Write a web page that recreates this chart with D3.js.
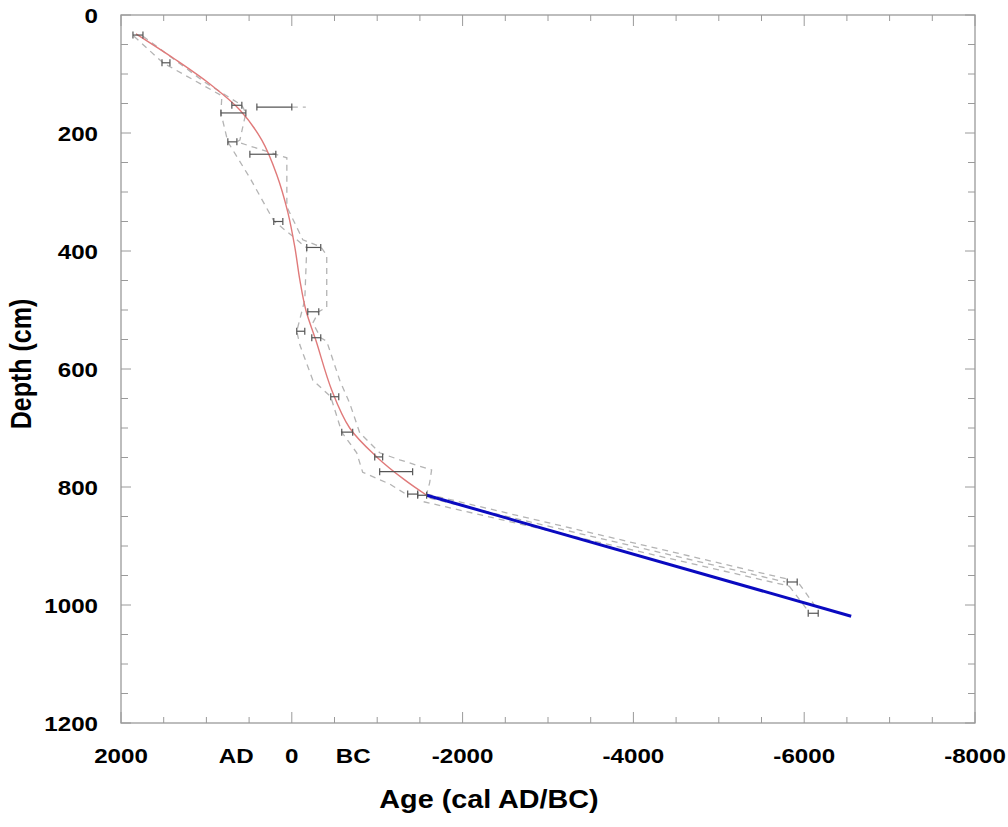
<!DOCTYPE html>
<html>
<head>
<meta charset="utf-8">
<script src="https://cdn.jsdelivr.net/npm/d3@7"></script>
<style>
  body { margin: 0; background: #fff; }
  text { font-family: "Liberation Sans", Arial, sans-serif; font-weight: bold; fill: #000; }
</style>
</head>
<body>
<svg id="chart" width="1008" height="827"></svg>
<script>
// dated samples: depth (cm), age range (cal AD/BC, negative = BC)
const dateDepths = [34, 81, 153, 156, 166, 215, 236, 350, 394, 503, 536, 547, 647, 707, 749, 774, 812, 814, 961, 1014];
const dateYoung  = [1860, 1520, 702, 409, 830, 749, 491, 211, -175, -187, -58, -234, -456, -585, -971, -1029, -1357, -1474, -5801, -6047];
const dateOld    = [1743, 1427, 585, 0, 538, 643, 187, 105, -339, -316, -152, -339, -550, -713, -1064, -1415, -1474, -1579, -5918, -6164];

// age-depth model (smooth spline part), [age, depth]
const modelCurve = [[1825, 32], [1368, 75], [959, 117], [608, 161], [351, 212], [175, 271], [47, 334],
  [-35, 393], [-94, 449], [-164, 500], [-281, 551], [-468, 636], [-678, 700], [-994, 749],
  [-1322, 788], [-1579, 814]];
// linear part below
const modelLinear = [[-1579, 814], [-6550, 1019]];

// confidence envelopes, [age, depth]
const envYoung = [[1848, 36], [1509, 81], [819, 137], [830, 166], [749, 215], [491, 276], [211, 349],
  [-35, 378], [-175, 395], [-152, 483], [-58, 536], [-94, 559], [-246, 619], [-456, 647], [-585, 707],
  [-760, 742], [-830, 775], [-1146, 795], [-1357, 814]];
const envOld = [[1743, 36], [1018, 114], [585, 153], [538, 166], [608, 212], [643, 215], [187, 236],
  [58, 242], [58, 325], [-129, 381], [-339, 393], [-409, 407], [-409, 495], [-316, 503], [-246, 522],
  [-339, 547], [-409, 553], [-561, 619], [-678, 658], [-795, 708], [-1029, 742], [-1263, 754],
  [-1637, 771], [-1614, 793], [-1579, 812]];
const envExtra = [
  [[0, 156], [-164, 156]],
  [[-1579, 812], [-5801, 956]],
  [[-1614, 819], [-5778, 961]],
  [[-1544, 825], [-5825, 968]],
  [[-5825, 968], [-6035, 1008]],
  [[-5942, 964], [-6129, 1002]]
];

const xTickValues = [2000, 0, -2000, -4000, -6000, -8000];
const xTickLabels = ["2000", "0", "-2000", "-4000", "-6000", "-8000"];
const eraLabels = [["AD", 650], ["BC", -720]];
const yTickValues = [0, 200, 400, 600, 800, 1000, 1200];

const svg = d3.select("#chart");
const m = { left: 121, right: 975, top: 15, bottom: 723 };
const stretch = 1.15;

const x = d3.scaleLinear().domain([2000, -8000]).range([m.left, m.right]);
const y = d3.scaleLinear().domain([0, 1200]).range([m.top, m.bottom]);

// ticks on all four sides, pointing inward
const axisColor = "#9a9a9a";
const g = svg.append("g");
const xMinor = d3.range(2000, -8001, -500);
const yMinor = d3.range(0, 1201, 50);
xMinor.forEach(v => {
  const len = v % 2000 === 0 ? 11 : 6;
  g.append("line").attr("x1", x(v)).attr("x2", x(v)).attr("y1", m.bottom).attr("y2", m.bottom - len)
    .attr("stroke", axisColor);
  g.append("line").attr("x1", x(v)).attr("x2", x(v)).attr("y1", m.top).attr("y2", m.top + len)
    .attr("stroke", axisColor);
});
yMinor.forEach(v => {
  const len = v % 200 === 0 ? 10 : 7;
  g.append("line").attr("x1", m.left).attr("x2", m.left + len).attr("y1", y(v)).attr("y2", y(v))
    .attr("stroke", axisColor);
  g.append("line").attr("x1", m.right).attr("x2", m.right - len).attr("y1", y(v)).attr("y2", y(v))
    .attr("stroke", axisColor);
});
g.append("rect").attr("x", m.left).attr("y", m.top).attr("width", m.right - m.left).attr("height", m.bottom - m.top)
  .attr("fill", "none").attr("stroke", axisColor).attr("stroke-width", 1.3);

// tick labels
function label(txt, px, py, anchor, size, rot) {
  svg.append("text")
    .attr("transform", `translate(${px},${py}) scale(${stretch},1)` + (rot ? ` rotate(${rot})` : ""))
    .attr("text-anchor", anchor).attr("font-size", size).text(txt);
}
xTickValues.forEach((v, i) => label(xTickLabels[i], x(v), 763, "middle", 21));
eraLabels.forEach(([t, v]) => label(t, x(v), 763, "middle", 21));
yTickValues.forEach(v => label(String(v), 98, y(v) + 7.5, "end", 21));

label("Age (cal AD/BC)", 489, 808, "middle", 25);
label("Depth (cm)", 31, 364, "middle", 25, -90);

// envelopes
const line = d3.line().x(d => x(d[0])).y(d => y(d[1]));
[envYoung, envOld, ...envExtra].forEach(pts => {
  svg.append("path").attr("d", line(pts)).attr("fill", "none")
    .attr("stroke", "#b4b4b4").attr("stroke-width", 1.3).attr("stroke-dasharray", "6,5");
});

// model
svg.append("path").attr("d", line.curve(d3.curveCatmullRom)(modelCurve)).attr("fill", "none")
  .attr("stroke", "#e07a7a").attr("stroke-width", 1.4);
svg.append("path").attr("d", d3.line().x(d => x(d[0])).y(d => y(d[1]))(modelLinear)).attr("fill", "none")
  .attr("stroke", "#0a0ac0").attr("stroke-width", 3);

// error bars
const bars = svg.append("g").attr("stroke", "#555").attr("stroke-width", 1.2);
dateDepths.forEach((d, i) => {
  const yy = y(d), x1 = x(dateYoung[i]), x2 = x(dateOld[i]);
  bars.append("line").attr("x1", x1).attr("x2", x2).attr("y1", yy).attr("y2", yy);
  bars.append("line").attr("x1", x1).attr("x2", x1).attr("y1", yy - 3.5).attr("y2", yy + 3.5);
  bars.append("line").attr("x1", x2).attr("x2", x2).attr("y1", yy - 3.5).attr("y2", yy + 3.5);
});
</script>
</body>
</html>
